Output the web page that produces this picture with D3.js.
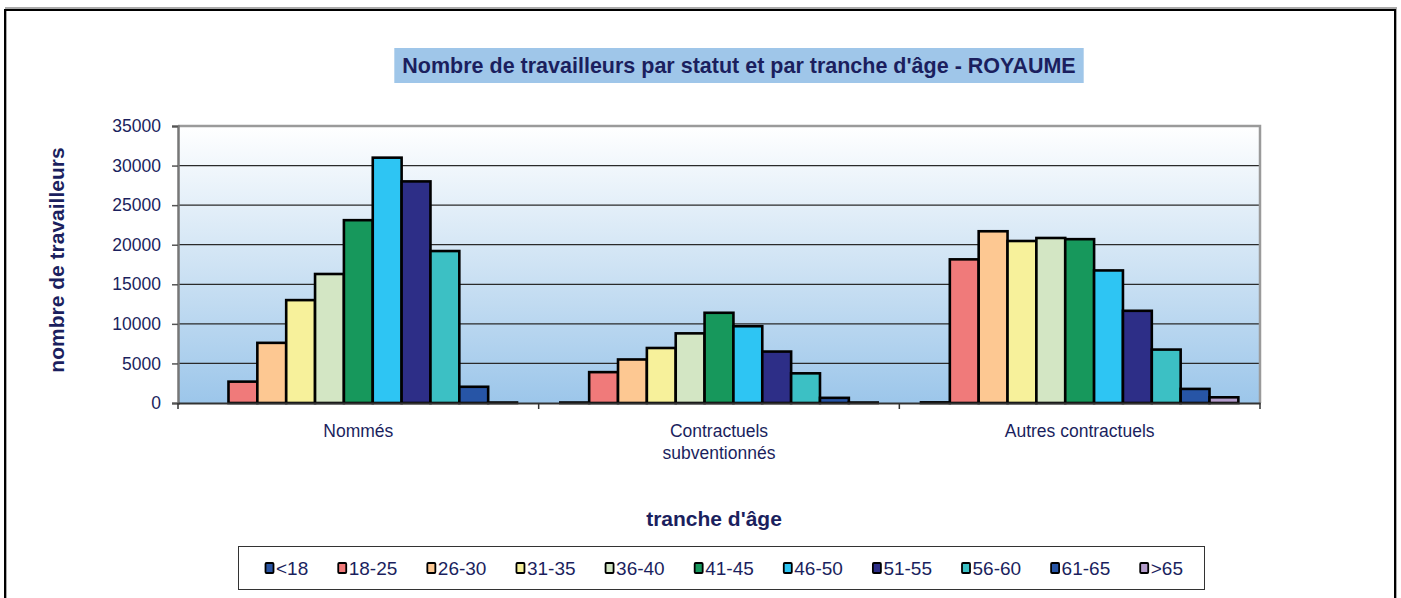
<!DOCTYPE html>
<html><head><meta charset="utf-8">
<script src="https://cdn.jsdelivr.net/npm/d3@7"></script>
<style>body{margin:0;background:#fff}svg{display:block;font-family:"Liberation Sans",Arial,sans-serif}</style>
</head><body><svg id="c" width="1401" height="598"></svg>
<script>
const categories = ["Nommés", "Contractuels\nsubventionnés", "Autres contractuels"];
const ageGroups = ["<18","18-25","26-30","31-35","36-40","41-45","46-50","51-55","56-60","61-65",">65"];
const colors = ["#2a55a3","#f07a7a","#fdc892","#f7f19b","#d3e6c4","#17985c","#2ec5f3","#2d2e87","#3cc0c4","#2755a6","#b49ccb"];
const nommes        = [0, 2700, 7600, 13000, 16300, 23100, 31000, 28000, 19200, 2050, 60];
const contractuels  = [60, 3900, 5500, 6950, 8800, 11400, 9700, 6500, 3750, 650, 60];
const autres        = [80, 18150, 21700, 20470, 20850, 20700, 16750, 11650, 6750, 1780, 720];
const series = [nommes, contractuels, autres];
const yTicks = [0,5000,10000,15000,20000,25000,30000,35000];
const title = "Nombre de travailleurs par statut et par tranche d'âge - ROYAUME";
const yTitle = "nombre de travailleurs";
const xTitle = "tranche d'âge";

const navy = "#1b1f5e";
const svg = d3.select("#c");
const L = 178, R = 1260, T = 126, B = 403;

// outer frame
svg.append("rect").attr("x",6).attr("y",8).attr("width",1390).attr("height",600).attr("fill","none").attr("stroke","#aaa").attr("stroke-width",2);
svg.append("rect").attr("x",5).attr("y",10).attr("width",1390).attr("height",600).attr("fill","none").attr("stroke","#000").attr("stroke-width",2);

// title
const tg = svg.append("g");
const tt = tg.append("text").attr("x",739).attr("y",73).attr("text-anchor","middle")
  .attr("font-weight","bold").attr("font-size",21.5).attr("fill",navy).text(title);
const tw = tt.node().getComputedTextLength();
tg.insert("rect","text").attr("x",739 - tw/2 - 8).attr("y",48).attr("width",tw+16).attr("height",35).attr("fill","#9fc6e9");

// gradient
const defs = svg.append("defs");
const gr = defs.append("linearGradient").attr("id","bg").attr("x1",0).attr("y1",0).attr("x2",0).attr("y2",1);
gr.append("stop").attr("offset","0%").attr("stop-color","#ffffff");
gr.append("stop").attr("offset","50%").attr("stop-color","#cfe3f4");
gr.append("stop").attr("offset","100%").attr("stop-color","#9cc6ea");

const y = d3.scaleLinear().domain([0,35000]).range([B,T]);
const x0 = d3.scaleBand().domain(categories).range([L,R]).padding(0);
const x1 = d3.scaleBand().domain(ageGroups).range([0,x0.bandwidth()]).paddingInner(0).paddingOuter(0.75);

svg.append("rect").attr("x",L).attr("y",T).attr("width",R-L).attr("height",B-T).attr("fill","url(#bg)");

// gridlines
svg.append("g").selectAll("line").data(yTicks.filter(d=>d>0)).join("line")
  .attr("x1",L).attr("x2",R).attr("y1",d=>y(d)).attr("y2",d=>y(d)).attr("stroke","#2a2a2a").attr("stroke-width",1.2);

// plot border top/right
svg.append("path").attr("d",`M${L},${T}H${R}V${B}`).attr("fill","none").attr("stroke","#9a9a9a").attr("stroke-width",2.5);

// bars
const bars = svg.append("g");
categories.forEach((c,ci)=>{
  bars.selectAll(null).data(series[ci]).join("rect")
    .attr("x",(d,i)=>x0(c)+x1(ageGroups[i]))
    .attr("y",d=>y(d))
    .attr("width",x1.bandwidth())
    .attr("height",d=>B-y(d))
    .attr("fill",(d,i)=>colors[i])
    .attr("stroke","#000").attr("stroke-width",2.6).attr("stroke-linejoin","miter");
});

// y axis
const ya = svg.append("g").attr("transform",`translate(${L},0)`)
  .call(d3.axisLeft(y).tickValues(yTicks).tickSize(6).tickPadding(11).tickFormat(d3.format("d")));
ya.select(".domain").attr("stroke","#777").attr("stroke-width",2.5);
ya.selectAll(".tick line").attr("stroke","#555").attr("stroke-width",1.5);
ya.selectAll("text").attr("font-size",17.5).attr("fill",navy).attr("font-family","Liberation Sans, Arial, sans-serif");

// x axis
const xa = svg.append("g").attr("transform",`translate(0,${B})`)
  .call(d3.axisBottom(x0).tickSize(0).tickFormat(""));
xa.select(".domain").attr("stroke","#333").attr("stroke-width",2.2);
const bounds = [L, ...categories.map(c=>x0(c)+x0.bandwidth())];
svg.append("g").selectAll("line").data(bounds).join("line")
  .attr("x1",d=>d).attr("x2",d=>d).attr("y1",B).attr("y2",B+6).attr("stroke","#333").attr("stroke-width",1.5);
categories.forEach(c=>{
  const t = svg.append("text").attr("x",x0(c)+x0.bandwidth()/2).attr("y",437).attr("text-anchor","middle")
    .attr("font-size",17.5).attr("fill",navy);
  c.split("\n").forEach((s,i)=>t.append("tspan").attr("x",x0(c)+x0.bandwidth()/2).attr("dy",i?22:0).text(s));
});

// axis titles
svg.append("text").attr("transform","translate(64,260) rotate(-90)").attr("text-anchor","middle")
  .attr("font-weight","bold").attr("font-size",21).attr("fill",navy).text(yTitle);
svg.append("text").attr("x",714).attr("y",526).attr("text-anchor","middle")
  .attr("font-weight","bold").attr("font-size",21).attr("fill",navy).text(xTitle);

// legend
svg.append("rect").attr("x",238.5).attr("y",546.5).attr("width",966).attr("height",43).attr("fill","#fff").attr("stroke","#333").attr("stroke-width",1);
const lg = svg.append("g");
let lx = 265;
ageGroups.forEach((a,i)=>{
  const g = lg.append("g").attr("transform",`translate(${lx},0)`);
  g.append("rect").attr("x",0.5).attr("y",563).attr("width",8).attr("height",10).attr("fill",colors[i]).attr("stroke","#000").attr("stroke-width",1.8).attr("rx",1);
  const t = g.append("text").attr("x",11).attr("y",575).attr("font-size",19).attr("fill",navy).text(a);
  lx += 11 + t.node().getComputedTextLength() + 29.5;
});
</script></body></html>
